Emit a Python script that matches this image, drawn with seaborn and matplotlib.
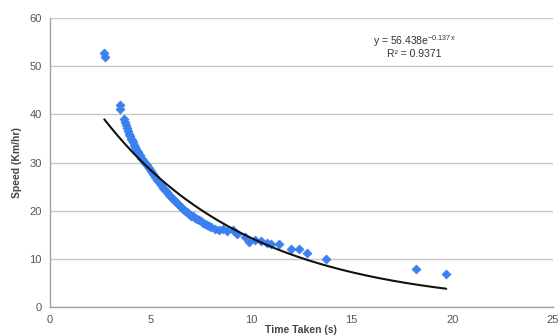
import numpy as np
import pandas as pd
import matplotlib
matplotlib.use("Agg")
import matplotlib.pyplot as plt
import seaborn as sns

# readings taken off the chart: time (s) vs speed (km/hr)
time_taken = [2.7, 2.75, 3.5, 3.5, 3.7, 3.75, 3.8, 3.85, 3.9, 3.95, 4.0, 4.05,
              4.1, 4.15, 4.2, 4.25, 4.3, 4.35, 4.4, 4.5, 4.55, 4.6, 4.7, 4.8,
              4.9, 5.0, 5.1, 5.2, 5.3, 5.4, 5.5, 5.6, 5.7, 5.8, 5.9, 6.0,
              6.1, 6.2, 6.3, 6.4, 6.5, 6.6, 6.7, 6.8, 6.9, 7.0, 7.1, 7.2,
              7.3, 7.4, 7.5, 7.6, 7.7, 7.8, 7.9, 8.0, 8.2, 8.4, 8.6, 8.8,
              9.1, 9.3, 9.7, 9.9, 10.2, 10.5, 10.8, 11.0, 11.4, 12.0, 12.4,
              12.8, 13.7, 18.2, 19.7]
speed = [52.8, 52.0, 42.0, 41.2, 39.0, 38.4, 37.8, 37.1, 36.5, 36.0, 35.5, 35.0,
         34.6, 34.2, 33.7, 33.3, 32.9, 32.5, 32.1, 31.5, 31.0, 30.6, 30.0, 29.4,
         28.8, 28.2, 27.6, 27.0, 26.4, 25.9, 25.3, 24.8, 24.3, 23.8, 23.3, 22.9,
         22.4, 22.0, 21.6, 21.2, 20.8, 20.4, 20.0, 19.7, 19.4, 19.0, 18.8, 18.5,
         18.2, 18.0, 17.8, 17.5, 17.2, 17.0, 16.8, 16.6, 16.3, 16.0, 16.3, 15.8,
         15.9, 15.2, 14.5, 13.6, 14.0, 13.8, 13.3, 13.0, 13.0, 12.0, 12.1,
         11.2, 10.0, 7.9, 6.8]

# exponential trendline shown on the chart
fit_a = 56.438
fit_b = -0.137
r_squared = 0.9371

df = pd.DataFrame({"time": time_taken, "speed": speed})
trend_x = np.linspace(min(time_taken), max(time_taken), 200)
trend = pd.DataFrame({"time": trend_x, "speed": fit_a * np.exp(fit_b * trend_x)})

sns.set_style("white")
plt.rcParams["font.family"] = ["Liberation Sans", "DejaVu Sans"]

fig = plt.figure(figsize=(5.59, 3.36), dpi=100)
ax = fig.add_axes([0.0894, 0.0863, 0.8996, 0.8597])

sns.scatterplot(data=df, x="time", y="speed", marker="D", s=20, color="#3A80EE",
                edgecolor="#3A80EE", linewidth=0.6, ax=ax, zorder=3)
sns.lineplot(data=trend, x="time", y="speed", color="#111111", linewidth=1.5,
             ax=ax, zorder=4)

ax.set_xlim(0, 25)
ax.set_ylim(0, 60)
ax.set_xticks(range(0, 26, 5))
ax.set_yticks(range(0, 61, 10))
ax.yaxis.grid(True, color="#c8c8c8", linewidth=1)
ax.set_axisbelow(True)

for side in ["top", "right"]:
    ax.spines[side].set_visible(False)
for side in ["left", "bottom"]:
    ax.spines[side].set_color("#a0a0a0")
    ax.spines[side].set_linewidth(1)

ax.tick_params(axis="both", direction="out", length=4, width=1, color="#a0a0a0",
               labelsize=8, labelcolor="#555555", pad=2)

ax.set_xlabel("Time Taken (s)", fontsize=7.5, fontweight="bold", color="#444444",
              labelpad=0)
ax.set_ylabel("Speed (Km/hr)", fontsize=7.5, fontweight="bold", color="#444444",
              labelpad=5)

ax.text(0.725, 0.92, f"y = {fit_a}e$^{{\\mathregular{{{fit_b}x}}}}$".replace("−", "-"),
        transform=ax.transAxes, ha="center", va="center", fontsize=7.5,
        color="#333333")
ax.text(0.725, 0.875, f"R² = {r_squared}", transform=ax.transAxes,
        ha="center", va="center", fontsize=7.5, color="#333333")

fig.savefig("out.png", dpi=100)
